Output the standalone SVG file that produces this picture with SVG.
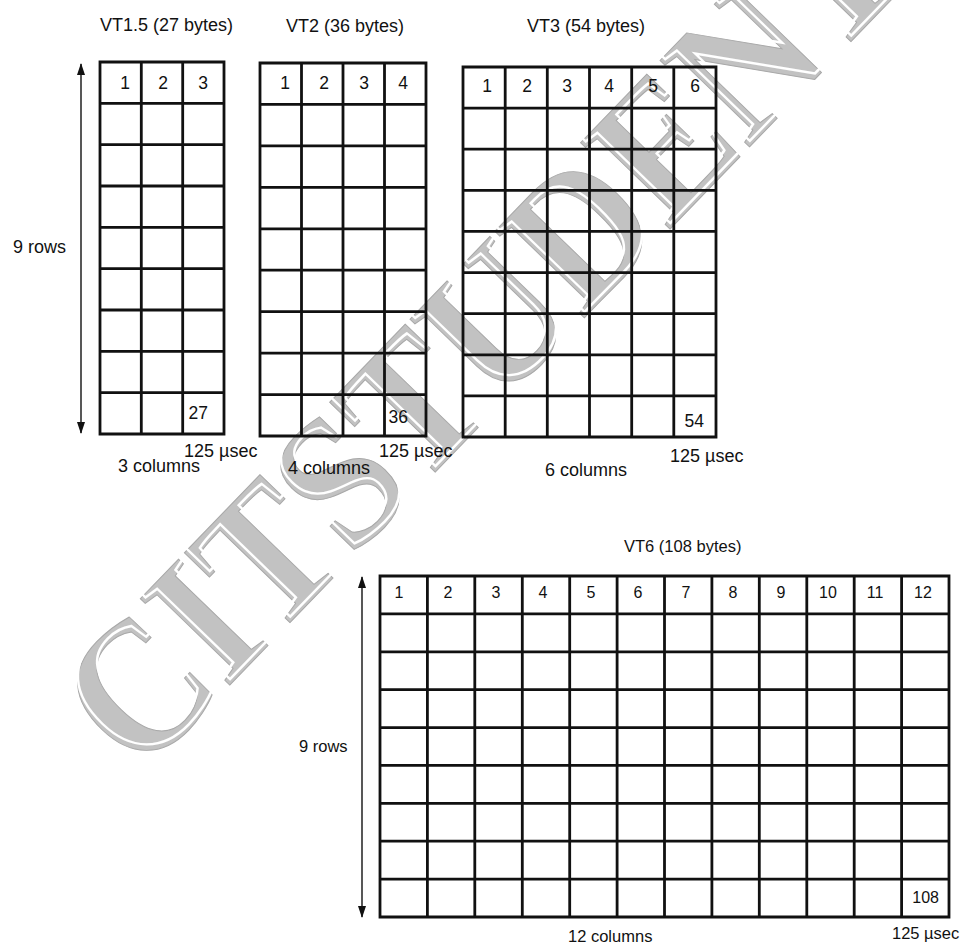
<svg xmlns="http://www.w3.org/2000/svg" width="963" height="952" viewBox="0 0 963 952">
<style>
.g{fill:none;stroke:#111;stroke-width:2.8;stroke-linecap:square}
.t{font-family:"Liberation Sans",Arial,sans-serif;fill:#111}
.l{font-size:18px}
.s{font-size:16.5px}
.n{font-size:17.5px;text-anchor:middle}
.m{font-size:16px;text-anchor:middle}
.ar{stroke:#111;stroke-width:1.4;fill:none}
.wm{font-family:"Liberation Serif","Times New Roman",serif;font-weight:bold;font-size:190px}
</style>
<defs>
<marker id="ah" viewBox="0 0 12 8" refX="11" refY="4" markerWidth="12" markerHeight="8" markerUnits="userSpaceOnUse" orient="auto-start-reverse">
<path d="M0,0 L12,4 L0,8 Z" fill="#111"/>
</marker>
</defs>
<rect width="963" height="952" fill="#fff"/>
<g id="watermark" transform="translate(140,778) rotate(-46) scale(0.9,1)">
<text class="wm" x="0" y="0" fill="#c2c2c2" stroke="#a8a8a8" stroke-width="1">CITSTUDENT</text>
<text class="wm" x="5" y="-4" fill="none" stroke="#fff" stroke-width="2.5">CITSTUDENT</text>
</g>
<g id="connectors">
<line class="ar" x1="81" y1="64" x2="81" y2="433" marker-start="url(#ah)" marker-end="url(#ah)"/>
<line class="ar" x1="362" y1="577" x2="362" y2="917" marker-start="url(#ah)" marker-end="url(#ah)"/>
</g>
<g id="vt15">
<text class="t l" x="100" y="31">VT1.5 (27 bytes)</text>
<path class="g" d="M100,62H224V434H100Z M141.3,62V434 M182.7,62V434 M100,103.3H224 M100,144.7H224 M100,186H224 M100,227.3H224 M100,268.7H224 M100,310H224 M100,351.3H224 M100,392.7H224"/>
<g class="t n"><text x="125" y="89">1</text><text x="163" y="89">2</text><text x="203" y="89">3</text></g>
<text class="t n" x="208" y="419" style="text-anchor:end">27</text>
<text class="t l" x="13" y="253">9 rows</text>
<text class="t l" x="184" y="457">125 µsec</text>
<text class="t l" x="118" y="472">3 columns</text>
</g>
<g id="vt2">
<text class="t l" x="286" y="32">VT2 (36 bytes)</text>
<path class="g" d="M260,63H426V436H260Z M301.5,63V436 M343,63V436 M384.5,63V436 M260,104.4H426 M260,145.9H426 M260,187.3H426 M260,228.8H426 M260,270.2H426 M260,311.7H426 M260,353.1H426 M260,394.6H426"/>
<g class="t n"><text x="285" y="89">1</text><text x="324" y="89">2</text><text x="364" y="89">3</text><text x="403" y="89">4</text></g>
<text class="t n" x="408" y="423" style="text-anchor:end">36</text>
<text class="t l" x="379" y="457">125 µsec</text>
<text class="t l" x="288" y="474">4 columns</text>
</g>
<g id="vt3">
<text class="t l" x="527" y="32">VT3 (54 bytes)</text>
<path class="g" d="M463,67H716V437H463Z M505.2,67V437 M547.3,67V437 M589.5,67V437 M631.7,67V437 M673.8,67V437 M463,108.1H716 M463,149.2H716 M463,190.3H716 M463,231.4H716 M463,272.6H716 M463,313.7H716 M463,354.8H716 M463,395.9H716"/>
<g class="t n"><text x="487" y="92">1</text><text x="527" y="92">2</text><text x="567" y="92">3</text><text x="609" y="92">4</text><text x="653" y="92">5</text><text x="695" y="92">6</text></g>
<text class="t n" x="704" y="427" style="text-anchor:end">54</text>
<text class="t l" x="670" y="462">125 µsec</text>
<text class="t l" x="545" y="476">6 columns</text>
</g>
<g id="vt6">
<text class="t s" x="624" y="552">VT6 (108 bytes)</text>
<path class="g" d="M380,576H949V917H380Z M427.4,576V917 M474.8,576V917 M522.3,576V917 M569.7,576V917 M617.1,576V917 M664.5,576V917 M711.9,576V917 M759.3,576V917 M806.8,576V917 M854.2,576V917 M901.6,576V917 M380,613.9H949 M380,651.8H949 M380,689.7H949 M380,727.6H949 M380,765.4H949 M380,803.3H949 M380,841.2H949 M380,879.1H949"/>
<g class="t m"><text x="399" y="598">1</text><text x="448" y="598">2</text><text x="496" y="598">3</text><text x="543" y="598">4</text><text x="591" y="598">5</text><text x="638" y="598">6</text><text x="686" y="598">7</text><text x="733" y="598">8</text><text x="781" y="598">9</text><text x="828" y="598">10</text><text x="875" y="598">11</text><text x="923" y="598">12</text></g>
<text class="t m" x="939" y="903" style="text-anchor:end">108</text>
<text class="t s" x="299" y="752">9 rows</text>
<text class="t s" x="892" y="939">125 µsec</text>
<text class="t s" x="568" y="942">12 columns</text>
</g>
</svg>
